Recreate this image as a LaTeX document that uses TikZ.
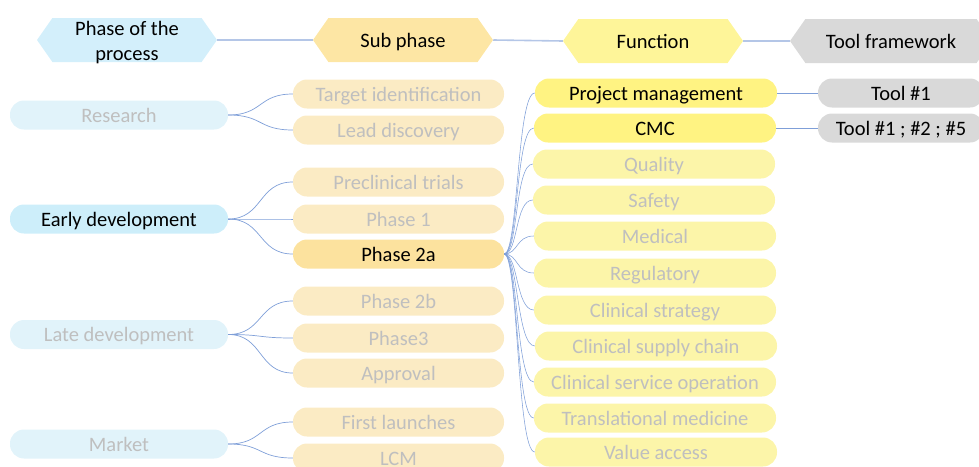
\documentclass[tikz,border=0pt]{standalone}
\usepackage{fontspec}
\setmainfont{Carlito}
\usetikzlibrary{shapes.symbols,shapes.misc}
\definecolor{hblue}{HTML}{D3EFFB}
\definecolor{ablue}{HTML}{CDEEFA}
\definecolor{fblue}{HTML}{E1F3FA}
\definecolor{horange}{HTML}{FDE6A4}
\definecolor{aorange}{HTML}{FCE29E}
\definecolor{forange}{HTML}{FBEBC4}
\definecolor{hyellow}{HTML}{FEF599}
\definecolor{ayellow}{HTML}{FFF382}
\definecolor{fyellow}{HTML}{FCF5A9}
\definecolor{hgray}{HTML}{D9D9D9}
\definecolor{fadetext}{HTML}{BFBFBF}
\definecolor{linkc}{HTML}{7F9FD8}
\definecolor{headlinkc}{HTML}{B4C6E7}
\begin{document}
\begin{tikzpicture}[x=1pt,y=-1pt,
  mainfs/.style={font=\fontsize{20.5}{25}\selectfont},
  pill/.style={rectangle, rounded corners=14pt, minimum height=29pt, inner sep=0pt, mainfs, text height=16pt, text depth=2pt},
  pbox/.style={pill, minimum width=218pt},
  sbox/.style={pill, minimum width=211pt},
  fbox/.style={pill, minimum width=242pt},
  tbox/.style={pill, minimum width=166pt, fill=hgray},
  faded/.style={text=fadetext},
  hexa/.style={signal, signal to=west and east, signal pointer angle=110, minimum height=44pt, minimum width=180pt, inner sep=0pt, mainfs, text height=16pt, text depth=2pt},
  link/.style={draw=linkc, line width=0.7pt},
  headlink/.style={draw=headlinkc, line width=1.6pt}
]
\useasboundingbox (0,0) rectangle (979,466);

% headers
\node[hexa, fill=hblue] (hphase) at (127,40) {};
\node[mainfs, align=center, inner sep=0pt] (hphasetext) at (127,42.5) {Phase of the\\process};
\node[hexa, fill=horange] (hsub) at (403,40) {Sub phase};
\node[hexa, fill=hyellow] (hfun) at (653,41) {Function};
\node[hexa, fill=hgray, minimum width=202pt] (htool) at (891,41) {Tool framework};
\draw[headlink] (hphase.east) -- (hsub.west);
\draw[headlink] (hsub.east) -- (hfun.west);
\draw[headlink] (hfun.east) -- (htool.west);

% phase of the process
\node[pbox, fill=fblue, faded] (research) at (119,115) {Research};
\node[pbox, fill=ablue] (early) at (119,219) {Early development};
\node[pbox, fill=fblue, faded] (late) at (119,334.5) {Late development};
\node[pbox, fill=fblue, faded] (market) at (119,444) {Market};

% sub phases
\node[sbox, fill=forange, faded] (target) at (398.5,94) {Target identification};
\node[sbox, fill=forange, faded] (lead) at (398.5,130) {Lead discovery};
\node[sbox, fill=forange, faded] (precl) at (398.5,182) {Preclinical trials};
\node[sbox, fill=forange, faded] (ph1) at (398.5,219) {Phase 1};
\node[sbox, fill=aorange] (ph2a) at (398.5,254) {Phase 2a};
\node[sbox, fill=forange, faded] (ph2b) at (398.5,301) {Phase 2b};
\node[sbox, fill=forange, faded] (ph3) at (398.5,338) {Phase3};
\node[sbox, fill=forange, faded] (appr) at (398.5,373) {Approval};
\node[sbox, fill=forange, faded] (first) at (398.5,422) {First launches};
\node[sbox, fill=forange, faded] (lcm) at (398.5,458) {LCM};

% functions
\node[fbox, fill=ayellow] (pm) at (656,93) {Project management};
\node[fbox, fill=ayellow] (cmc) at (655,128) {CMC};
\node[fbox, fill=fyellow, faded] (qual) at (654,164) {Quality};
\node[fbox, fill=fyellow, faded] (safe) at (654,200) {Safety};
\node[fbox, fill=fyellow, faded] (med) at (655,236) {Medical};
\node[fbox, fill=fyellow, faded] (reg) at (655,273) {Regulatory};
\node[fbox, fill=fyellow, faded] (cstrat) at (655,310) {Clinical strategy};
\node[fbox, fill=fyellow, faded] (csupply) at (656,346) {Clinical supply chain};
\node[fbox, fill=fyellow, faded] (cserv) at (655,382) {Clinical service operation};
\node[fbox, fill=fyellow, faded] (trans) at (655,418) {Translational medicine};
\node[fbox, fill=fyellow, faded] (value) at (656,452) {Value access};

% tools
\node[tbox] (t1) at (901,93) {Tool \#1};
\node[tbox] (t2) at (901,128) {Tool \#1 ; \#2 ; \#5};

% connectors phase -> sub phase
\foreach \s/\t in {research/target, research/lead, early/precl, early/ph1, early/ph2a,
                   late/ph2b, late/ph3, late/appr, market/first, market/lcm}
  \draw[link] (\s.east) .. controls +(35,0) and +(-35,0) .. (\t.west);

% connectors phase 2a -> functions
\foreach \t in {pm, cmc, qual, safe, med, reg, cstrat, csupply, cserv, trans, value}
  \draw[link, line width=0.55pt] (ph2a.east) .. controls +(14,0) and +(-18,0) .. (\t.west);

% functions -> tools
\draw[link] (pm.east) -- (t1.west);
\draw[link] (cmc.east) -- (t2.west);
\end{tikzpicture}
\end{document}
